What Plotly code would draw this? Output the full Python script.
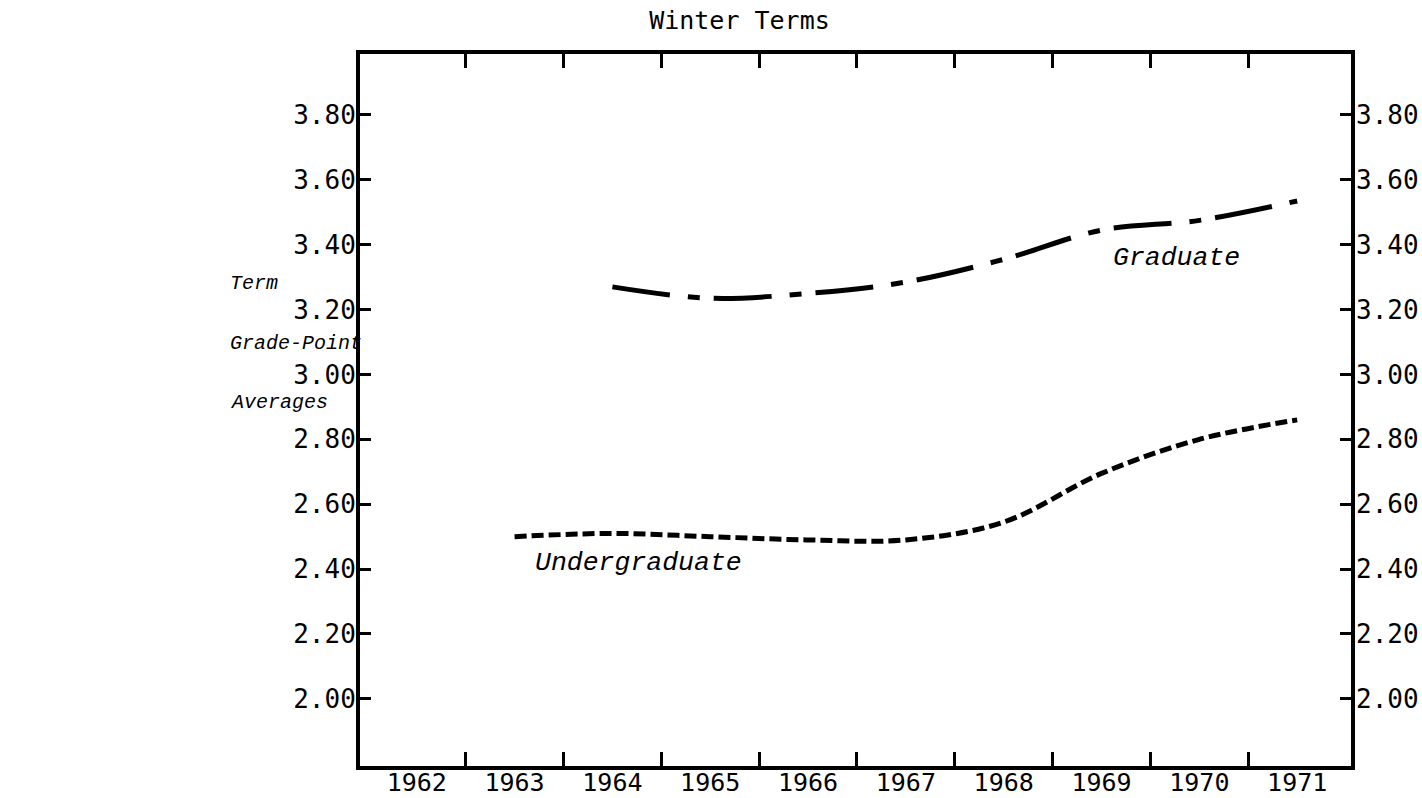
import plotly.graph_objects as go

# winter term grade-point averages
grad_years = [1964, 1965, 1966, 1967, 1968, 1969, 1970, 1971]
grad_gpa = [3.27, 3.235, 3.25, 3.285, 3.355, 3.445, 3.475, 3.535]

ugrad_years = [1963, 1964, 1965, 1966, 1967, 1968, 1969, 1970, 1971]
ugrad_gpa = [2.50, 2.51, 2.50, 2.49, 2.49, 2.545, 2.695, 2.80, 2.86]

year_labels = [1962, 1963, 1964, 1965, 1966, 1967, 1968, 1969, 1970, 1971]
year_bounds = [y + 0.5 for y in year_labels[:-1]]
gpa_ticks = [2.00, 2.20, 2.40, 2.60, 2.80, 3.00, 3.20, 3.40, 3.60, 3.80]

mono = "DejaVu Sans Mono"
ital = "Liberation Mono"
xr = [1961.42, 1971.55]
yr = [1.793, 3.988]

fig = go.Figure()
# graduate line sits on the overlay axes (same ranges) so the top/right axes get drawn
fig.add_trace(
    go.Scatter(
        x=grad_years,
        y=grad_gpa,
        xaxis="x2",
        yaxis="y2",
        mode="lines",
        line=dict(color="black", width=5, dash="58px,18px,12px,14px", shape="spline"),
        name="Graduate",
    )
)
fig.add_trace(
    go.Scatter(
        x=ugrad_years,
        y=ugrad_gpa,
        mode="lines",
        line=dict(color="black", width=5, dash="12px,5px", shape="spline"),
        name="Undergraduate",
    )
)

tick = dict(ticks="inside", tickwidth=3, tickcolor="black")

fig.update_layout(
    width=1422,
    height=798,
    margin=dict(l=360, r=71, t=54, b=32),
    paper_bgcolor="white",
    plot_bgcolor="white",
    showlegend=False,
    font=dict(family=mono, size=26, color="black"),
    xaxis=dict(
        range=xr,
        automargin=False,
        tickmode="array",
        tickvals=year_labels,
        ticktext=[str(y) for y in year_labels],
        ticks="",
        ticklabelstandoff=-9,
        tickfont=dict(size=25),
        showgrid=False,
        zeroline=False,
        showline=True,
        linewidth=4,
        linecolor="black",
        mirror=True,
        minor=dict(tickmode="array", tickvals=year_bounds, ticklen=14, showgrid=False, **tick),
    ),
    xaxis2=dict(
        range=xr,
        automargin=False,
        overlaying="x",
        side="top",
        anchor="y",
        tickmode="array",
        tickvals=year_bounds,
        ticklen=14,
        showticklabels=False,
        showgrid=False,
        zeroline=False,
        showline=False,
        **tick,
    ),
    yaxis=dict(
        range=yr,
        automargin=False,
        tickmode="array",
        tickvals=gpa_ticks,
        ticktext=["%.2f" % v for v in gpa_ticks],
        ticklen=11,
        ticklabelstandoff=-5,
        showgrid=False,
        zeroline=False,
        showline=True,
        linewidth=4,
        linecolor="black",
        mirror=True,
        **tick,
    ),
    yaxis2=dict(
        range=yr,
        automargin=False,
        overlaying="y",
        side="right",
        anchor="x2",
        tickmode="array",
        tickvals=gpa_ticks,
        ticktext=["%.2f" % v for v in gpa_ticks],
        ticklen=11,
        ticklabelstandoff=4,
        showgrid=False,
        zeroline=False,
        showline=False,
        **tick,
    ),
    title=dict(
        text="Winter Terms",
        x=0.52,
        xanchor="center",
        y=0.975,
        yanchor="middle",
        font=dict(family=mono, size=25),
    ),
)

fig.add_annotation(
    x=1969.1, y=3.359, xref="x", yref="y", text="<i>Graduate</i>",
    showarrow=False, xanchor="left", font=dict(family=ital, size=26.5),
)
fig.add_annotation(
    x=1963.19, y=2.418, xref="x", yref="y", text="<i>Undergraduate</i>",
    showarrow=False, xanchor="left", font=dict(family=ital, size=26.5),
)
for txt, yp in [("Term", 0.677), ("Grade-Point", 0.593), ("Averages", 0.511)]:
    fig.add_annotation(
        x=-0.133, y=yp, xref="paper", yref="paper", text="<i>%s</i>" % txt,
        showarrow=False, xanchor="left", yanchor="middle", font=dict(family=ital, size=20),
    )

# drop the default page margin so the 1422x798 figure fills the window exactly
fig.write_html(
    "out.html",
    config={"displayModeBar": False},
    post_script="document.body.style.margin='0';document.body.style.overflow='hidden';",
)
